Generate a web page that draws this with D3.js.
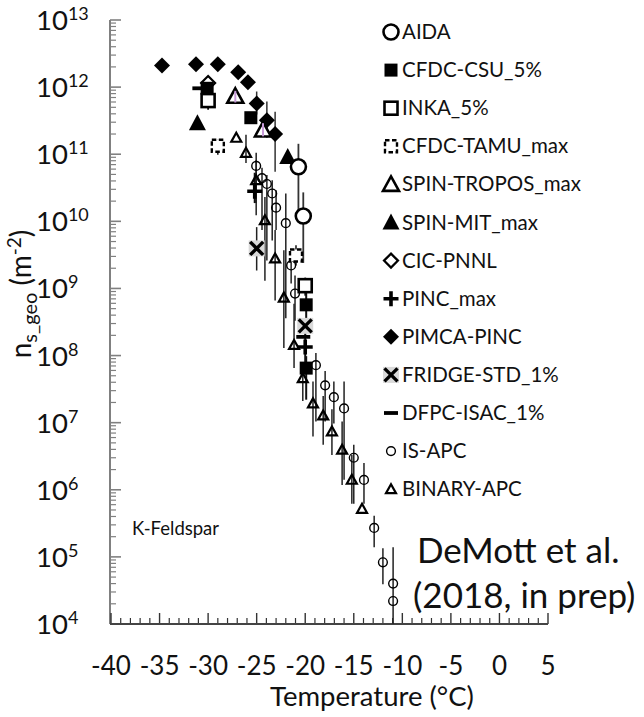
<!DOCTYPE html>
<html>
<head>
<meta charset="utf-8">
<script src="https://cdn.jsdelivr.net/npm/d3@7"></script>
<style>
  body { margin: 0; background: #fff; }
  svg { display: block; }
</style>
</head>
<body>
<svg id="chart" width="644" height="717"></svg>
<script>
// Each row: [temperature °C, n_s,geo (m^-2), error low, error high]
const aida       = [[-20.7, 6.5e10, 1.47e10, 1.43e11], [-20.2, 1.2e10, 2.4e9, 2.7e10]];
const cfdcCsu    = [[-30.1, 9.6e11], [-25.6, 3.5e11], [-19.9, 5.7e8, 3.3e8, 8.6e8], [-19.9, 6.5e7, 2.2e7, 9.8e7]];
const inka       = [[-30.0, 6.3e11, 4.6e11, 7.3e11], [-20.0, 1.1e9, 7.8e8, 1.45e9]];
const cfdcTamu   = [[-29.0, 1.34e11, 9.8e10, 1.64e11], [-20.95, 3.1e9, 2.2e9, 4.4e9]];
const spinTropos = [[-27.2, 7.3e11, 5.9e11, 8.8e11], [-24.35, 2.3e11, 1.85e11, 2.9e11]];
const spinMit    = [[-31.1, 2.9e11], [-21.8, 9.1e10]];
const cicPnnl    = [[-30.0, 1.15e12]];
const pincMax    = [[-25.2, 2.8e10, 1.87e10, 5.3e10], [-20.0, 1.34e8, 8.0e7, 2.2e8]];
const pimcaPinc  = [[-34.75, 2.1e12], [-31.25, 2.2e12], [-29.0, 2.2e12], [-26.9, 1.66e12], [-25.9, 1.18e12],
                    [-25.0, 5.7e11, 3.9e11, 8.6e11], [-23.95, 3.2e11, 1.76e11, 6.1e11], [-23.1, 2.0e11, 5.5e10, 4.3e11]];
const fridgeStd  = [[-25.0, 3.95e9, 1.85e9, 8.2e9], [-20.0, 2.77e8]];
const dfpcIsac   = [[-30.9, 9.6e11], [-20.2, 1.9e8]];
const isApc      = [[-25.05, 6.7e10, 1.87e10, 1.05e11], [-24.45, 4.4e10, 7.4e9, 6.3e10], [-23.95, 3.6e10, 2.6e9, 4.9e10],
                    [-23.4, 2.6e10, 5.2e9, 4.1e10], [-23.0, 1.6e10, 7.4e9, 2.9e10], [-22.0, 9.4e9, 3.6e8, 2.6e10],
                    [-21.45, 2.2e9, 1.18e9, 3.3e9], [-21.05, 8.4e8, 3.3e8, 1.56e9], [-18.9, 7.2e7, 1.04e7, 1.09e8],
                    [-17.95, 3.6e7, 1.04e7, 5.9e7], [-17.05, 2.4e7, 9.7e6, 4.1e7], [-16.0, 1.63e7, 1.41e6, 4.1e7],
                    [-15.0, 3.0e6, 6.2e5, 4.7e6], [-13.95, 1.4e6, 6.2e5, 2.5e6], [-12.9, 2.7e5, 1.39e5, 4.1e5],
                    [-12.0, 8.3e4, 3.9e4, 1.35e5], [-10.95, 4.0e4, 1.0e4, 1.39e5], [-10.95, 2.2e4]];
const binaryApc  = [[-27.1, 1.76e11], [-26.1, 1.05e11, 7.4e10, 1.95e11], [-25.05, 4.1e10, 1.23e10, 8.2e10],
                    [-24.15, 1.04e10, 1.3e9, 2.3e10], [-23.1, 2.8e9, 6.6e8, 7.4e9], [-22.2, 7.3e8, 1.3e8, 3.7e9],
                    [-21.15, 1.44e8, 6.5e7, 5.9e8], [-20.25, 4.6e7, 2.1e7, 5.9e7], [-19.2, 1.94e7, 6.2e6, 4.1e7],
                    [-18.15, 1.28e7, 4.7e6, 2.5e7], [-17.25, 7.4e6, 3.3e6, 1.58e7], [-16.2, 3.96e6, 1.18e6, 1.04e7],
                    [-15.2, 1.41e6, 6.2e5, 3.3e6], [-14.15, 5.2e5]];

const legendLabels = ["AIDA", "CFDC-CSU_5%", "INKA_5%", "CFDC-TAMU_max", "SPIN-TROPOS_max", "SPIN-MIT_max",
                      "CIC-PNNL", "PINC_max", "PIMCA-PINC", "FRIDGE-STD_1%", "DFPC-ISAC_1%", "IS-APC", "BINARY-APC"];
const legendMarkers = ["circleOpen", "squareFilled", "squareOpen", "squareDashed", "triOpen", "triFilled",
                       "diamondOpen", "plus", "diamondFilled", "cross", "dash", "circleSmall", "triSmall"];
const temperatureTicks = d3.range(-40, 6, 5);
const decadeExponents = d3.range(4, 14);

const svg = d3.select("#chart");
const x = d3.scaleLinear().domain([-40, 5]).range([111, 548]);
const y = d3.scaleLog().domain([1e4, 1e13]).range([624, 20]);
const font = "Lato, 'Open Sans', sans-serif";

// ---- axes ----
const axisG = svg.append("g");
// minor ticks on y (2..9 within each decade)
const minorY = [];
decadeExponents.slice(0, -1).forEach(e => d3.range(2, 10).forEach(m => minorY.push(m * Math.pow(10, e))));
axisG.selectAll(".ymin").data(minorY).enter().append("line")
  .attr("x1", 110).attr("x2", 116).attr("y1", d => y(d)).attr("y2", d => y(d))
  .attr("stroke", "#808080").attr("stroke-width", 1.2);
axisG.selectAll(".ymaj").data(decadeExponents).enter().append("line")
  .attr("x1", 110).attr("x2", 121).attr("y1", d => y(Math.pow(10, d))).attr("y2", d => y(Math.pow(10, d)))
  .attr("stroke", "#808080").attr("stroke-width", 1.6);
axisG.append("line").attr("x1", 110).attr("x2", 110).attr("y1", y(1e13)).attr("y2", y(1e4))
  .attr("stroke", "#808080").attr("stroke-width", 2);

// x ticks: minor every 1 °C, major every 5 °C, pointing up
const minorX = d3.range(-40, 6, 1).filter(t => t % 5 !== 0);
axisG.selectAll(".xmin").data(minorX).enter().append("line")
  .attr("x1", d => x(d)).attr("x2", d => x(d)).attr("y1", y(1e4)).attr("y2", y(1e4) - 6)
  .attr("stroke", "#333").attr("stroke-width", 1.2);
axisG.selectAll(".xmaj").data(temperatureTicks).enter().append("line")
  .attr("x1", d => x(d)).attr("x2", d => x(d)).attr("y1", y(1e4)).attr("y2", y(1e4) - 11)
  .attr("stroke", "#333").attr("stroke-width", 1.4);
axisG.append("line").attr("x1", 110).attr("x2", x(5)).attr("y1", y(1e4)).attr("y2", y(1e4))
  .attr("stroke", "#444").attr("stroke-width", 2);

// tick labels
const yLab = axisG.selectAll(".ylab").data(decadeExponents).enter().append("text")
  .attr("x", 36).attr("y", d => y(Math.pow(10, d)) + 10)
  .attr("font-family", font).attr("font-size", 27.5).attr("fill", "#111");
yLab.append("tspan").text("10");
yLab.append("tspan").attr("dy", -10).attr("font-size", 18).text(d => d);

axisG.selectAll(".xlab").data(temperatureTicks).enter().append("text")
  .attr("x", d => x(d)).attr("y", 675).attr("text-anchor", "middle")
  .attr("font-family", font).attr("font-size", 26).attr("fill", "#111")
  .text(d => d);

svg.append("text").attr("x", 372).attr("y", 706).attr("text-anchor", "middle")
  .attr("font-family", font).attr("font-size", 27.5).attr("fill", "#111")
  .text("Temperature (°C)");

const yTitle = svg.append("text")
  .attr("transform", "translate(31,294) rotate(-90)").attr("text-anchor", "middle")
  .attr("font-family", font).attr("font-size", 28).attr("fill", "#111");
yTitle.append("tspan").text("n");
yTitle.append("tspan").attr("dy", 6).attr("font-size", 20).text("s_geo");
yTitle.append("tspan").attr("dy", -6).text(" (m");
yTitle.append("tspan").attr("dy", -10).attr("font-size", 19).text("-2");
yTitle.append("tspan").attr("dy", 10).text(")");

// ---- markers ----
function marker(g, type, cx, cy) {
  const s = g.append("g").attr("transform", `translate(${cx},${cy})`);
  switch (type) {
    case "circleOpen":
      s.append("circle").attr("r", 7.5).attr("fill", "#fff").attr("stroke", "#000").attr("stroke-width", 2.6); break;
    case "squareFilled":
      s.append("rect").attr("x", -6.5).attr("y", -6.5).attr("width", 13).attr("height", 13).attr("fill", "#000"); break;
    case "squareOpen":
      s.append("rect").attr("x", -6.5).attr("y", -6.5).attr("width", 13).attr("height", 13)
        .attr("fill", "#fff").attr("stroke", "#000").attr("stroke-width", 2.6); break;
    case "squareDashed":
      s.append("rect").attr("x", -6).attr("y", -6).attr("width", 12).attr("height", 12)
        .attr("fill", "#fff").attr("stroke", "#000").attr("stroke-width", 2.4).attr("stroke-dasharray", "4.5,2.5"); break;
    case "triOpen":
      s.append("path").attr("d", "M0,-8 L8,6.5 L-8,6.5 Z").attr("fill", "#fff")
        .attr("stroke", "#000").attr("stroke-width", 2.6).attr("stroke-linejoin", "miter"); break;
    case "triFilled":
      s.append("path").attr("d", "M0,-9 L8.5,7 L-8.5,7 Z").attr("fill", "#000"); break;
    case "diamondOpen":
      s.append("path").attr("d", "M0,-7 L7,0 L0,7 L-7,0 Z").attr("fill", "#fff")
        .attr("stroke", "#000").attr("stroke-width", 2.2); break;
    case "plus":
      s.append("path").attr("d", "M-7.5,0 H7.5 M0,-7.5 V7.5").attr("stroke", "#000").attr("stroke-width", 3.6); break;
    case "diamondFilled":
      s.append("path").attr("d", "M0,-8 L8,0 L0,8 L-8,0 Z").attr("fill", "#000"); break;
    case "cross":
      s.append("rect").attr("x", -8).attr("y", -8).attr("width", 16).attr("height", 16).attr("fill", "#d9d9d9");
      s.append("path").attr("d", "M-6.5,-6.5 L6.5,6.5 M6.5,-6.5 L-6.5,6.5").attr("stroke", "#000").attr("stroke-width", 3.4); break;
    case "dash":
      s.append("path").attr("d", "M-7,0 H7").attr("stroke", "#000").attr("stroke-width", 3.8); break;
    case "circleSmall":
      s.append("circle").attr("r", 4.4).attr("fill", "none").attr("stroke", "#000").attr("stroke-width", 1.4); break;
    case "triSmall":
      s.append("path").attr("d", "M0,-5 L5,4 L-5,4 Z").attr("fill", "none")
        .attr("stroke", "#000").attr("stroke-width", 2.2).attr("stroke-linejoin", "miter"); break;
  }
}

// error bars
const barsG = svg.append("g");
function errorBars(data, color, width) {
  barsG.selectAll(null).data(data.filter(d => d.length > 3)).enter().append("line")
    .attr("x1", d => x(d[0])).attr("x2", d => x(d[0]))
    .attr("y1", d => y(d[2])).attr("y2", d => y(d[3]))
    .attr("stroke", color).attr("stroke-width", width);
}
errorBars(isApc, "#222", 1.5);
errorBars(binaryApc, "#222", 1.5);
errorBars(pimcaPinc, "#333", 1.5);
errorBars(aida, "#333", 1.8);
errorBars(cfdcCsu, "#111", 2);
errorBars(inka, "#111", 1.8);
errorBars(cfdcTamu, "#111", 1.5);
errorBars(pincMax, "#111", 2);
errorBars(fridgeStd, "#222", 1.5);

const marksG = svg.append("g");
function series(data, type) {
  data.forEach(d => marker(marksG, type, x(d[0]), y(d[1])));
}
series(isApc, "circleSmall");
series(binaryApc, "triSmall");
series(pimcaPinc, "diamondFilled");
series(spinMit, "triFilled");
series(aida, "circleOpen");
series(inka, "squareOpen");
series(cfdcTamu, "squareDashed");
series(cicPnnl, "diamondOpen");
series(spinTropos, "triOpen");
// inner bars of the SPIN-TROPOS points
marksG.selectAll(null).data(spinTropos).enter().append("line")
  .attr("x1", d => x(d[0])).attr("x2", d => x(d[0]))
  .attr("y1", d => y(d[2])).attr("y2", d => y(d[3]))
  .attr("stroke", "#c79ad8").attr("stroke-width", 2);
series(dfpcIsac, "dash");
series(cfdcCsu, "squareFilled");
series(fridgeStd, "cross");
series(pincMax, "plus");

// ---- legend ----
const legendG = svg.append("g");
legendLabels.forEach((label, i) => {
  const ly = 32 + i * 38.1;
  marker(legendG, legendMarkers[i], 391, ly);
  legendG.append("text").attr("x", 402).attr("y", ly + 7)
    .attr("font-family", font).attr("font-size", 20.5).attr("fill", "#111").text(label);
});

// ---- annotations ----
svg.append("text").attr("x", 132).attr("y", 535)
  .attr("font-family", font).attr("font-size", 18.5).attr("fill", "#111").text("K-Feldspar");
svg.append("text").attr("x", 417).attr("y", 563)
  .attr("font-family", font).attr("font-size", 35).attr("fill", "#111").text("DeMott et al.");
svg.append("text").attr("x", 413).attr("y", 608)
  .attr("font-family", font).attr("font-size", 35).attr("fill", "#111").text("(2018, in prep)");
</script>
</body>
</html>
